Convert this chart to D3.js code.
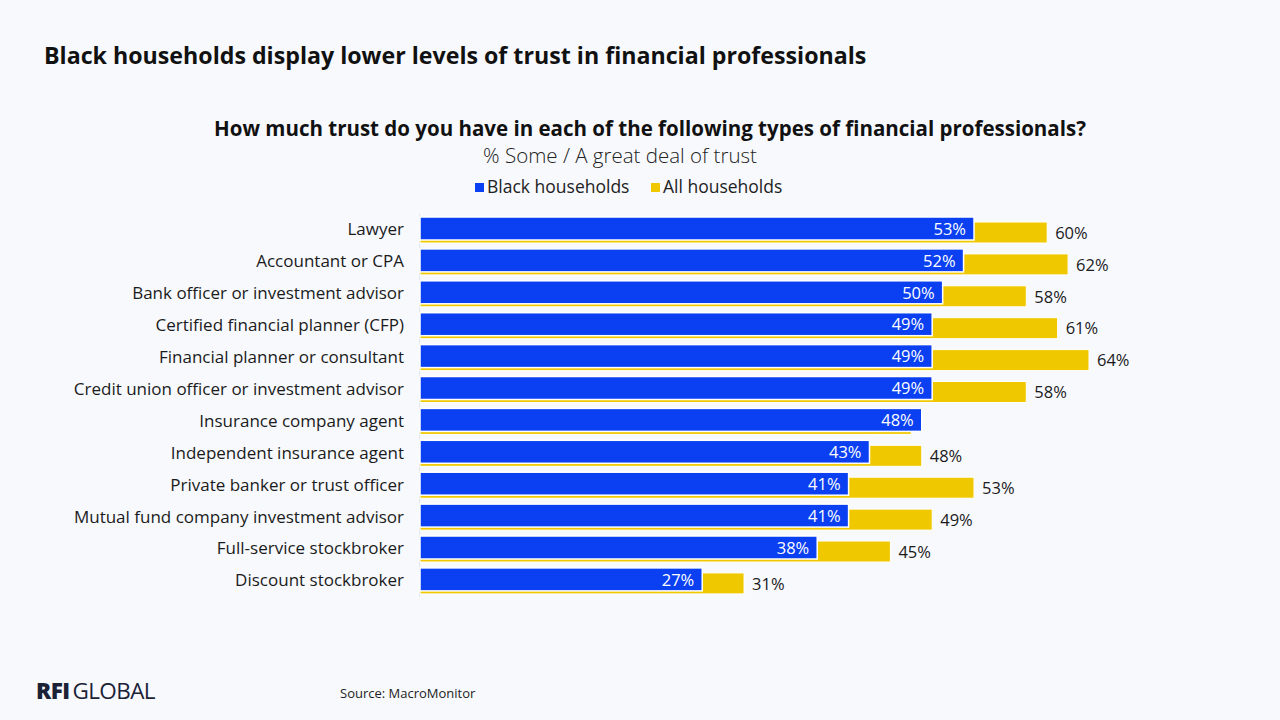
<!DOCTYPE html>
<html>
<head>
<meta charset="utf-8">
<script src="https://cdn.jsdelivr.net/npm/d3@7"></script>
<style>
  html, body { margin: 0; padding: 0; background: #f7f9fd; }
  svg { display: block; font-family: "Open Sans", Lato, sans-serif; }
</style>
</head>
<body>
<svg id="chart" width="1280" height="720"></svg>
<script>
// Data
const categories = [
  'Lawyer',
  'Accountant or CPA',
  'Bank officer or investment advisor',
  'Certified financial planner (CFP)',
  'Financial planner or consultant',
  'Credit union officer or investment advisor',
  'Insurance company agent',
  'Independent insurance agent',
  'Private banker or trust officer',
  'Mutual fund company investment advisor',
  'Full-service stockbroker',
  'Discount stockbroker'
];
const blackHouseholds = [53, 52, 50, 49, 49, 49, 48, 43, 41, 41, 38, 27];
const allHouseholds = [60, 62, 58, 61, 64, 58, 47, 48, 53, 49, 45, 31];
const seriesNames = ['Black households', 'All households'];

const BLUE = '#0a40f2';
const YELLOW = '#f0c800';
const TEXT = '#1b1b1b';

const svg = d3.select('#chart');

// background
svg.append('rect')
  .attr('width', 1280)
  .attr('height', 720)
  .attr('fill', '#f7f9fd');

// Titles
svg.append('text')
  .attr('x', 44)
  .attr('y', 64)
  .style('font-size', '23.2px')
  .style('font-weight', 'bold')
  .attr('fill', '#111')
  .text('Black households display lower levels of trust in financial professionals');

svg.append('text')
  .attr('x', 650)
  .attr('y', 136)
  .attr('text-anchor', 'middle')
  .style('font-size', '20.5px')
  .style('font-weight', 'bold')
  .attr('fill', '#111')
  .text('How much trust do you have in each of the following types of financial professionals?');

svg.append('text')
  .attr('x', 620)
  .attr('y', 163)
  .attr('text-anchor', 'middle')
  .style('font-size', '20.5px')
  .style('font-weight', 300)
  .attr('fill', '#222')
  .text('% Some / A great deal of trust');

// Legend
const legend = svg.append('g');
const legendX = [475, 651];
seriesNames.forEach((name, i) => {
  const g = legend.append('g')
    .attr('transform', `translate(${legendX[i]}, 187)`);
  g.append('rect')
    .attr('x', 0)
    .attr('y', -4)
    .attr('width', 9)
    .attr('height', 9)
    .attr('fill', i === 0 ? BLUE : YELLOW);
  g.append('text')
    .attr('x', 12)
    .attr('y', 6)
    .style('font-size', '17.5px')
    .attr('fill', '#222')
    .text(name);
});

// Scales
const x = d3.scaleLinear()
  .domain([0, 64])
  .range([420, 1089]);

const y = d3.scaleBand()
  .domain(categories)
  .range([214, 214 + categories.length * 31.9])
  .padding(0);

const plot = svg.append('g');

// Category axis labels
const yAxis = d3.axisLeft(y).tickSize(0).tickPadding(16);
const axisG = plot.append('g')
  .attr('transform', `translate(${x(0)},0)`)
  .call(yAxis);
axisG.select('.domain').remove();
axisG.selectAll('text')
  .attr('dy', '0.32em')
  .attr('fill', TEXT)
  .style('font-size', '17px')
  .style('font-family', '"Open Sans", Lato, sans-serif');

// thin baseline
plot.append('line')
  .attr('x1', x(0) - 0.5)
  .attr('x2', x(0) - 0.5)
  .attr('y1', y.range()[0])
  .attr('y2', y.range()[1])
  .attr('stroke', '#e2e6ee')
  .attr('stroke-width', 1);

const rows = categories.map((c, i) => ({
  cat: c,
  black: blackHouseholds[i],
  all: allHouseholds[i]
}));

// All households (behind)
plot.selectAll('.bar-all')
  .data(rows)
  .enter()
  .append('rect')
  .attr('class', 'bar-all')
  .attr('x', x(0))
  .attr('y', d => y(d.cat) + 8)
  .attr('width', d => x(d.all) - x(0))
  .attr('height', 21)
  .attr('fill', YELLOW)
  .attr('stroke', '#ffffff')
  .attr('stroke-width', 1);

plot.selectAll('.label-all')
  .data(rows.filter(d => d.all > d.black))
  .enter()
  .append('text')
  .attr('class', 'label-all')
  .attr('x', d => x(d.all) + 8)
  .attr('y', d => y(d.cat) + 19)
  .attr('dy', '0.35em')
  .style('font-size', '16.5px')
  .attr('fill', TEXT)
  .text(d => `${d.all}%`);

// Black households (front)
plot.selectAll('.bar-black')
  .data(rows)
  .enter()
  .append('rect')
  .attr('class', 'bar-black')
  .attr('x', x(0))
  .attr('y', d => y(d.cat) + 3)
  .attr('width', d => x(d.black) - x(0))
  .attr('height', 23)
  .attr('fill', BLUE)
  .attr('stroke', '#ffffff')
  .attr('stroke-width', 1.5);

plot.selectAll('.label-black')
  .data(rows)
  .enter()
  .append('text')
  .attr('class', 'label-black')
  .attr('x', d => x(d.black) - 8)
  .attr('y', d => y(d.cat) + 15)
  .attr('dy', '0.35em')
  .attr('text-anchor', 'end')
  .style('font-size', '16.5px')
  .attr('fill', '#ffffff')
  .text(d => `${d.black}%`);

// Footer
const logo = svg.append('text')
  .attr('x', 36)
  .attr('y', 699)
  .style('font-size', '22.5px')
  .attr('fill', '#1c2236')
  .style('letter-spacing', '-0.6px');
logo.append('tspan').style('font-weight', 800).text('RFI');
logo.append('tspan').attr('dx', 3).style('font-weight', 400).text('GLOBAL');

svg.append('text')
  .attr('x', 340)
  .attr('y', 698)
  .style('font-size', '13px')
  .attr('fill', '#222')
  .text('Source: MacroMonitor');
</script>
</body>
</html>
